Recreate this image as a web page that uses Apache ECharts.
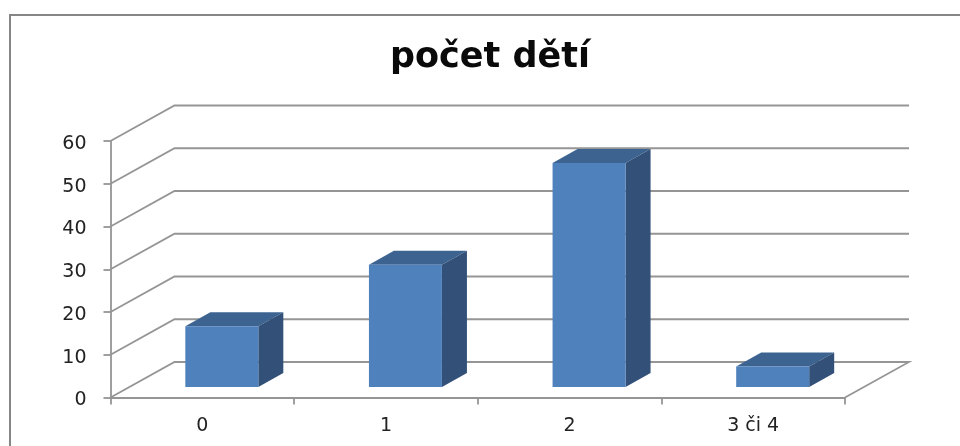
<!DOCTYPE html>
<html>
<head>
<meta charset="utf-8">
<style>html,body{margin:0;padding:0;background:#fff}#c{width:960px;height:446px}</style>
<script src="https://cdn.jsdelivr.net/npm/echarts@6/dist/echarts.min.js"></script>
</head>
<body>
<div id="c"></div>
<script>
var chartTitle = 'počet dětí';
var categories = ['0', '1', '2', '3 či 4'];
var values = [14.2, 28.6, 52.4, 4.8];
var gridValues = [0, 10, 20, 30, 40, 50, 60];

var WALL_DX = 64, WALL_DY = -35.5;
var BAR_W = 73, BAR_DX = 25, BAR_DY = -14, BAR_SHIFT_X = 19.5, BAR_SHIFT_Y = -10.5;
var LINE = '#959595';

function renderWall(params, api) {
  var v = api.value(1);
  var p = api.coord([0, v]);
  var band = api.size([1, 0])[0];
  var x0 = p[0] - band / 2;
  var x1 = x0 + band * categories.length;
  var pts = [[x0, p[1]], [x0 + WALL_DX, p[1] + WALL_DY], [x1 + WALL_DX, p[1] + WALL_DY]];
  if (v === 0) pts.push([x1, p[1]]);
  return {
    type: 'polyline',
    shape: { points: pts },
    style: { fill: 'none', stroke: LINE, lineWidth: 1.8 },
    silent: true
  };
}

function renderBar(params, api) {
  var top = api.coord([api.value(0), api.value(1)]);
  var base = api.coord([api.value(0), 0]);
  var l = top[0] - BAR_W / 2 + BAR_SHIFT_X, r = l + BAR_W;
  var t = top[1] + BAR_SHIFT_Y, b = base[1] + BAR_SHIFT_Y;
  return {
    type: 'group',
    children: [
      { type: 'polygon', shape: { points: [[l, t], [r, t], [r + BAR_DX, t + BAR_DY], [l + BAR_DX, t + BAR_DY]] },
        style: { fill: '#3d6491' } },
      { type: 'polygon', shape: { points: [[r, t], [r + BAR_DX, t + BAR_DY], [r + BAR_DX, b + BAR_DY], [r, b]] },
        style: { fill: '#325078' } },
      { type: 'rect', shape: { x: l, y: t, width: BAR_W, height: b - t },
        style: { fill: '#4f81bd' } }
    ]
  };
}

var chart = echarts.init(document.getElementById('c'), null, { renderer: 'canvas' });
chart.setOption({
  animation: false,
  backgroundColor: '#ffffff',
  title: {
    text: chartTitle,
    left: 485, top: 35, textAlign: 'center',
    textStyle: { fontFamily: 'DejaVu Sans', fontWeight: 'bold', fontSize: 35, color: '#0a0a0a' }
  },
  grid: { left: 110.5, right: 115, top: 141, bottom: 48.5 },
  xAxis: {
    type: 'category',
    data: categories,
    axisLine: { lineStyle: { color: LINE, width: 1.8 } },
    axisTick: { show: true, alignWithLabel: false, length: 7, lineStyle: { color: LINE, width: 1.8 } },
    axisLabel: { margin: 19, fontFamily: 'DejaVu Sans', fontSize: 19, color: '#222222' },
    splitLine: { show: false }
  },
  yAxis: {
    type: 'value',
    min: 0, max: 60, interval: 10,
    axisLine: { show: true, lineStyle: { color: LINE, width: 1.8 } },
    axisTick: { show: true, length: 7, lineStyle: { color: LINE, width: 1.8 } },
    axisLabel: { margin: 24, verticalAlign: 'top', lineHeight: 6, fontFamily: 'DejaVu Sans', fontSize: 19, color: '#222222' },
    splitLine: { show: false }
  },
  series: [
    { type: 'custom', name: 'mřížka', renderItem: renderWall, clip: false, z: 1,
      encode: { x: 0, y: 1 }, silent: true,
      data: gridValues.map(function (v) { return [0, v]; }) },
    { type: 'custom', name: chartTitle, renderItem: renderBar, clip: false, z: 3,
      encode: { x: 0, y: 1 },
      data: values.map(function (v, i) { return [i, v]; }) }
  ],
  graphic: [{
    type: 'polyline', silent: true, z: 0,
    shape: { points: [[10, 446], [10, 15], [960, 15]] },
    style: { fill: 'none', stroke: '#868686', lineWidth: 2 }
  }]
});
</script>
</body>
</html>
